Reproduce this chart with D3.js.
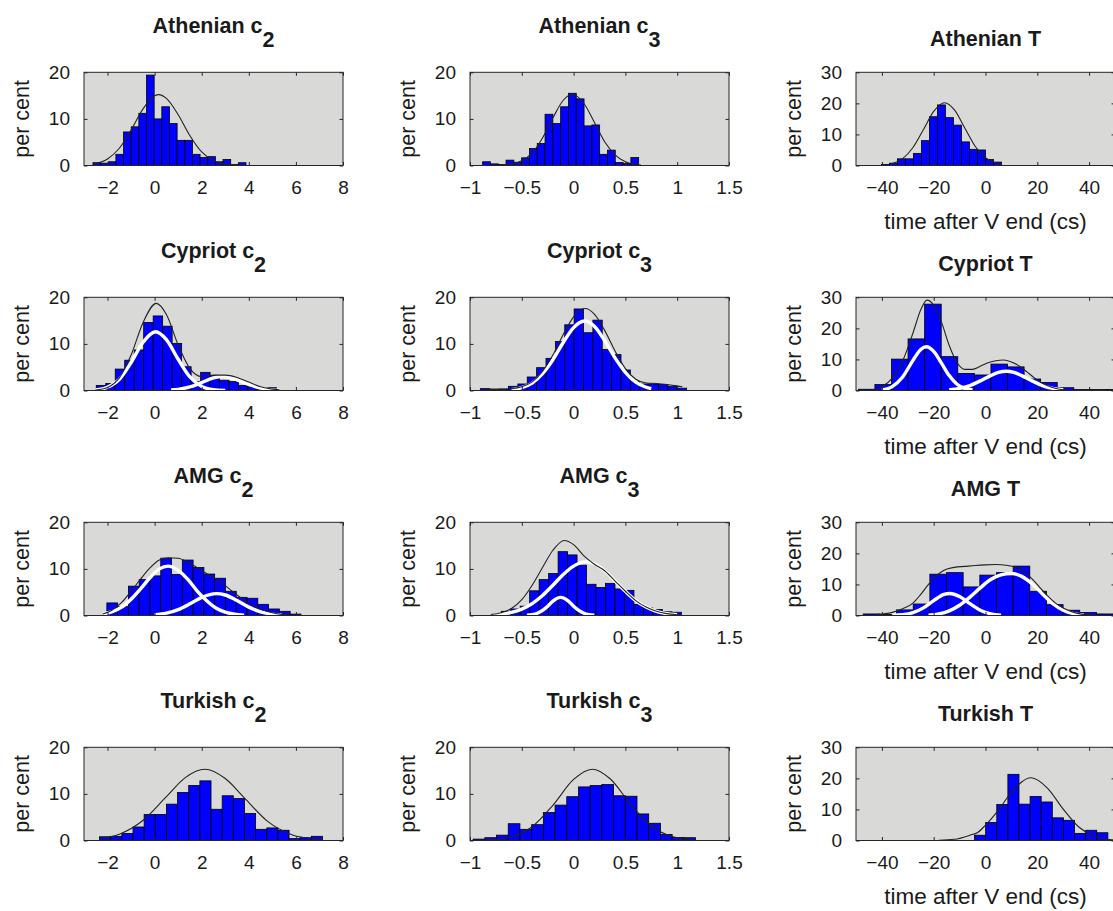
<!DOCTYPE html>
<html><head><meta charset="utf-8">
<script src="https://cdn.jsdelivr.net/npm/d3@7"></script>
<style>
body{margin:0;background:#fff}
svg text{font-family:"Liberation Sans",Arial,Helvetica,sans-serif;fill:#1a1a1a}
</style>
</head><body>
<svg id="c" width="1113" height="911"></svg>
<script>
// ---------------- data ----------------
const groups = ["Athenian", "Cypriot", "AMG", "Turkish"];
const measures = ["c2", "c3", "T"];
const xTicksC2 = [-2, 0, 2, 4, 6, 8];
const xTicksC3 = [-1, -0.5, 0, 0.5, 1, 1.5];
const xTicksT = [-40, -20, 0, 20, 40];
const yTicksC = [0, 10, 20];
const yTicksT = [0, 10, 20, 30];
const xDomC2 = [-3, 8], xDomC3 = [-1, 1.5], xDomT = [-50, 50];
const yDomC = [0, 20], yDomT = [0, 30];
const yLabel = "per cent";
const xLabelT = "time after V end (cs)";

// histogram bins: [first edge, bin width]; pct = bar heights (per cent)
const athC2Bin = [-2.62, 0.325];
const athC2Pct = [0.6,0.5,0.8,2.4,7.2,8.3,11.2,19.4,10.0,12.6,9.0,5.4,5.4,2.4,1.7,1.9,0.8,1.3,0.2,0.6];
const athC2Fit = [[-2.6,0.3],[-2,1.4],[-1.5,3.7],[-1,7.6],[-0.5,12.1],[0,14.95],[0.18,15.2],[0.5,14.4],[1,10.9],[1.5,6.4],[2,2.9],[2.5,1.0],[3,0.28],[3.5,0.06],[3.9,0.01]];

const athC3Bin = [-0.878, 0.0753];
const athC3Pct = [0.8,0.35,0.2,1.15,0.7,1.65,3.65,4.7,11.0,9.0,12.6,15.5,14.3,8.5,8.7,2.4,3.3,0.65,0.45,1.7];
const athC3Fit = [[-0.7,0.07],[-0.6,0.29],[-0.5,1.0],[-0.4,2.7],[-0.3,5.9],[-0.2,10.2],[-0.1,14.0],[-0.01,15.3],[0.1,13.3],[0.2,9.3],[0.3,5.1],[0.4,2.3],[0.5,0.8],[0.6,0.22],[0.65,0.11]];

const athTBin = [-40.2, 3.09];
const athTPct = [0.3,0.75,2.15,2.15,3.9,8.0,15.7,19.5,15.4,13.0,7.6,5.2,5.0,1.9,1.1];
const athTFit = [[-36,0.65],[-32,2.2],[-28,5.8],[-24,11.5],[-20,17.4],[-15.8,20.2],[-12,17.9],[-8,12.1],[-4,6.2],[0,2.5],[4,0.74],[6,0.37]];

const cypC2Bin = [-2.48, 0.403];
const cypC2Pct = [1.1,1.5,4.6,6.5,8.7,14.6,16.0,13.8,10.1,5.1,1.9,3.9,3.2,2.2,1.9,1.1,0.8,0.2,0.6];
const cypC2Fit = [[-2.5,0.11],[-2,0.66],[-1.5,2.7],[-1,7.6],[-0.5,14.5],[0.07,18.7],[0.5,16.3],[1,9.75],[1.5,4.7],[2,3.0],[2.5,3.3],[3,3.3],[3.5,2.8],[4,1.8],[4.5,0.8],[5,0.3],[5.3,0.15]];
const cypC2Comp1 = [[-2.5,0.14],[-2,0.71],[-1.5,2.4],[-1,6.0],[-0.5,10.3],[0.04,12.6],[0.5,10.9],[1,6.7],[1.5,2.9],[2,0.88],[2.5,0.19],[3,0.03]];
const cypC2Comp2 = [[0.7,0.1],[1,0.25],[1.5,0.77],[2,1.7],[2.5,2.7],[2.9,3.0],[3.5,2.3],[4,1.3],[4.5,0.5],[5,0.14],[5.3,0.05]];

const cypC3Bin = [-0.9, 0.0905];
const cypC3Pct = [0.4,0.2,0.3,0.9,1.4,2.9,4.9,6.9,10.5,14.1,17.5,12.4,15.1,8.8,7.7,4.4,1.9,1.4,1.4,1.3,0.9,0.5];
const cypC3Fit = [[-0.9,0.4],[-0.8,0.3],[-0.7,0.3],[-0.6,0.4],[-0.5,0.8],[-0.4,1.84],[-0.3,4.1],[-0.2,7.6],[-0.1,12.0],[0,15.8],[0.11,17.6],[0.2,16.4],[0.3,12.9],[0.4,8.5],[0.5,4.7],[0.6,2.4],[0.7,1.6],[0.8,1.5],[0.9,1.3],[1.0,1.0],[1.05,0.8]];
const cypC3Comp1 = [[-0.6,0.2],[-0.5,0.61],[-0.4,1.6],[-0.3,3.6],[-0.2,6.6],[-0.1,10.3],[0,13.5],[0.106,14.9],[0.2,13.8],[0.3,10.7],[0.4,7.0],[0.5,3.9],[0.6,1.8],[0.7,0.7],[0.75,0.4]];

const cypTBin = [-49.1, 6.4];
const cypTPct = [0.4,1.9,10.1,16.6,27.8,10.9,5.5,5.0,8.5,7.6,3.7,2.6,0.9,0.3,0.3,0.3];
const cypTFit = [[-44,0.2],[-40,1.2],[-36,4.0],[-32,9.5],[-28,18.5],[-25,26],[-22.6,29.1],[-20,27.5],[-17,22],[-14,14.5],[-11,9.0],[-8,6.8],[-5,6.8],[-2,7.8],[1,8.9],[4,9.6],[7,9.8],[10,9.2],[13,7.9],[16,6.0],[19,4.0],[22,2.3],[25,1.2],[28,0.5],[31,0.2]];
const cypTComp1 = [[-40,0.23],[-36,1.25],[-32,4.35],[-28,9.7],[-25,13.2],[-22.8,14.1],[-20,12.6],[-17,8.8],[-14,4.8],[-11,2.0],[-8,0.67],[-5,0.17]];
const cypTComp2 = [[-14,0.22],[-10,0.66],[-6,1.6],[-2,3.1],[2,4.8],[5,5.8],[8,6.2],[11,5.8],[14,4.8],[18,3.1],[22,1.6],[26,0.66],[30,0.22]];

const amgC2Bin = [-2.03, 0.458];
const amgC2Pct = [2.7,1.9,6.3,7.7,8.5,12.3,8.8,11.9,10.3,8.9,8.0,5.2,3.9,3.7,2.4,1.4,0.9,0.3];
const amgC2Fit = [[-2.2,0.3],[-1.8,1.2],[-1.4,2.8],[-1,5.2],[-0.6,7.8],[-0.2,10.2],[0.2,11.9],[0.6,12.4],[1,12.3],[1.4,11.5],[1.8,10.3],[2.2,9.0],[2.6,7.8],[3,6.4],[3.4,4.8],[3.8,3.3],[4.2,2.1],[4.6,1.2],[5,0.6],[5.4,0.25],[5.8,0.1]];
const amgC2Comp1 = [[-2.2,0.33],[-1.8,0.83],[-1.4,1.8],[-1,3.5],[-0.6,5.7],[-0.2,8.1],[0.2,10.0],[0.57,10.6],[1,9.7],[1.4,7.8],[1.8,5.3],[2.2,3.2],[2.6,1.6],[3,0.73],[3.4,0.28],[3.8,0.09]];
const amgC2Comp2 = [[0,0.15],[0.5,0.5],[1,1.27],[1.5,2.5],[2,3.9],[2.62,4.7],[3,4.4],[3.5,3.2],[4,1.8],[4.5,0.8],[5,0.28],[5.4,0.1]];

const amgC3Bin = [-0.79, 0.0915];
const amgC3Pct = [0.4,0.9,1.4,2.0,5.3,7.7,9.0,13.7,13.0,10.8,6.7,6.0,6.9,5.7,5.4,2.4,1.6,1.3,0.8,0.7];
const amgC3Fit = [[-0.8,0.2],[-0.7,0.6],[-0.6,1.5],[-0.5,3.4],[-0.4,6.5],[-0.3,10.3],[-0.2,14.0],[-0.09,16.1],[0,15.2],[0.1,12.8],[0.2,11.0],[0.3,9.6],[0.4,7.4],[0.5,5.2],[0.6,3.2],[0.7,1.8],[0.8,0.9],[0.9,0.4],[1.0,0.16]];
const amgC3Comp1 = [[-0.8,0.1],[-0.7,0.27],[-0.6,0.65],[-0.5,1.36],[-0.4,2.56],[-0.3,4.3],[-0.2,6.5],[-0.1,8.8],[0,10.6],[0.12,11.5],[0.2,11.1],[0.3,9.6],[0.4,7.4],[0.5,5.2],[0.6,3.2],[0.7,1.8],[0.8,0.88],[0.9,0.39],[1.0,0.16]];
const amgC3Comp2 = [[-0.45,0.05],[-0.4,0.17],[-0.35,0.48],[-0.3,1.1],[-0.25,2.0],[-0.2,3.1],[-0.125,3.9],[-0.05,3.1],[0,2.0],[0.05,1.1],[0.1,0.48],[0.15,0.17],[0.2,0.05]];

const amgTBin = [-47.2, 6.43];
const amgTPct = [0.5,0.3,1.8,3.7,13.3,13.8,9.2,13.0,13.8,15.9,7.8,3.5,1.7,1.0,0.5];
const amgTFit = [[-42,0.3],[-36,1.0],[-32,2.2],[-28,4.0],[-25,6.8],[-22,10.0],[-19,12.8],[-16,14.6],[-12,15.5],[-8,15.8],[-4,16.1],[0,16.3],[4,16.4],[8,16.2],[12,15.4],[15,14.0],[18,11.8],[21,9.0],[24,6.3],[27,4.0],[30,2.4],[33,1.3],[36,0.6],[40,0.2]];
const amgTComp1 = [[-36,0.05],[-32,0.24],[-28,0.9],[-24,2.46],[-20,4.8],[-16,6.8],[-13.8,7.1],[-10,6.1],[-6,3.8],[-2,1.7],[2,0.55],[6,0.13]];
const amgTComp2 = [[-22,0.1],[-18,0.5],[-14,1.5],[-10,3.3],[-6,5.9],[-2,8.9],[2,11.6],[6,13.1],[9.9,13.5],[14,12.6],[18,10.2],[22,6.9],[26,3.8],[30,1.7],[34,0.6],[38,0.15]];

const turC2Bin = [-2.34, 0.4735];
const turC2Pct = [0.8,0.9,1.5,2.9,5.6,5.6,7.8,10.3,11.8,12.8,6.7,9.6,9.0,5.8,2.4,2.7,2.2,0.4,0.6,0.9];
const turC2Fit = [[-2.3,0.42],[-1.5,1.36],[-0.5,4.3],[0.5,9.4],[1.3,13.5],[2.13,15.3],[3,13.3],[3.8,9.2],[4.8,4.1],[5.8,1.29],[6.8,0.28],[7.1,0.15]];

const turC3Bin = [-0.97, 0.113];
const turC3Pct = [0.3,0.6,1.15,3.6,2.4,3.4,6.0,7.6,9.4,11.5,11.8,12.0,9.6,9.5,5.7,3.7,1.3,0.65,0.6];
const turC3Fit = [[-0.95,0.03],[-0.8,0.14],[-0.6,0.785],[-0.4,2.96],[-0.2,7.56],[0,13.1],[0.18,15.3],[0.35,13.3],[0.55,7.8],[0.75,3.1],[0.95,0.85],[1.15,0.16]];

const turTBin = [-4.23, 4.29];
const turTPct = [1.7,5.8,11.6,21.3,11.7,14.2,12.4,7.3,6.5,2.3,3.3,2.5];
const turTFit = [[-18,0.06],[-12,0.38],[-6,1.7],[-3,2.6],[0,4.96],[5,9.8],[10,15.5],[17.6,20.2],[24,16.8],[30,10.1],[36,4.35],[42,1.36],[48,0.3],[50,0.17]];

// ---------------- layout ----------------
const colLeft = [84, 470, 856], plotW = 259;
const rowTop = [72.3, 297.3, 522.3, 747.3], plotH = 93.2;
const xDoms = [xDomC2, xDomC3, xDomT];
const xTickSets = [xTicksC2, xTicksC3, xTicksT];
const yDoms = [yDomC, yDomC, yDomT];
const yTickSets = [yTicksC, yTicksC, yTicksT];

const panels = [
  [athC2Bin, athC2Pct, athC2Fit, []],
  [athC3Bin, athC3Pct, athC3Fit, []],
  [athTBin, athTPct, athTFit, []],
  [cypC2Bin, cypC2Pct, cypC2Fit, [cypC2Comp1, cypC2Comp2]],
  [cypC3Bin, cypC3Pct, cypC3Fit, [cypC3Comp1]],
  [cypTBin, cypTPct, cypTFit, [cypTComp1, cypTComp2]],
  [amgC2Bin, amgC2Pct, amgC2Fit, [amgC2Comp1, amgC2Comp2]],
  [amgC3Bin, amgC3Pct, amgC3Fit, [amgC3Comp1, amgC3Comp2]],
  [amgTBin, amgTPct, amgTFit, [amgTComp1, amgTComp2]],
  [turC2Bin, turC2Pct, turC2Fit, []],
  [turC3Bin, turC3Pct, turC3Fit, []],
  [turTBin, turTPct, turTFit, []]
];

const svg = d3.select("#c");
const axisCol = "#262626";
const fs = 19;
const font = '"Liberation Sans", Arial, sans-serif';

panels.forEach((p, idx) => {
  const row = Math.floor(idx / 3), col = idx % 3;
  const [bin, pct, fit, comps] = p;
  const x0 = colLeft[col], y0 = rowTop[row];
  const xs = d3.scaleLinear().domain(xDoms[col]).range([x0, x0 + plotW]);
  const ys = d3.scaleLinear().domain(yDoms[col]).range([y0 + plotH, y0]);
  const g = svg.append("g");
  const cid = "clip" + idx;
  g.append("clipPath").attr("id", cid).append("rect")
    .attr("x", x0).attr("y", y0).attr("width", plotW).attr("height", plotH);

  g.append("rect").attr("x", x0).attr("y", y0).attr("width", plotW).attr("height", plotH)
    .attr("fill", "#d9d9d7");

  const inner = g.append("g").attr("clip-path", `url(#${cid})`);
  const bars = pct.map((v, i) => ({a: bin[0] + i * bin[1], b: bin[0] + (i + 1) * bin[1], v}));
  inner.selectAll("rect.bar").data(bars).enter().append("rect")
    .attr("x", d => xs(d.a)).attr("width", d => xs(d.b) - xs(d.a))
    .attr("y", d => ys(d.v)).attr("height", d => ys(0) - ys(d.v))
    .attr("fill", "#0000ff").attr("stroke", "#000").attr("stroke-width", 0.8);

  const line = d3.line().x(d => xs(d[0])).y(d => ys(d[1])).curve(d3.curveMonotoneX);
  comps.forEach(c => {
    inner.append("path").attr("d", line(c)).attr("fill", "none")
      .attr("stroke", "#fff").attr("stroke-width", 3.4).attr("stroke-linejoin", "round");
  });
  inner.append("path").attr("d", line(fit)).attr("fill", "none")
    .attr("stroke", "#222").attr("stroke-width", 1.1);

  // axes
  const fmt = d3.format("");
  const xb = g.append("g").attr("transform", `translate(0,${y0 + plotH})`)
    .call(d3.axisBottom(xs).tickValues(xTickSets[col]).tickSizeInner(-3.5).tickSizeOuter(0).tickPadding(15).tickFormat(fmt));
  const xt = g.append("g").attr("transform", `translate(0,${y0})`)
    .call(d3.axisTop(xs).tickValues(xTickSets[col]).tickSizeInner(-3.5).tickSizeOuter(0).tickFormat(""));
  const yl = g.append("g").attr("transform", `translate(${x0},0)`)
    .call(d3.axisLeft(ys).tickValues(yTickSets[col]).tickSizeInner(-3.5).tickSizeOuter(0).tickPadding(14).tickFormat(fmt));
  const yr = g.append("g").attr("transform", `translate(${x0 + plotW},0)`)
    .call(d3.axisRight(ys).tickValues(yTickSets[col]).tickSizeInner(-3.5).tickSizeOuter(0).tickFormat(""));
  [xb, xt, yl, yr].forEach(a => {
    a.select(".domain").remove();
    a.selectAll("line").attr("stroke", axisCol);
    a.selectAll("text").attr("font-size", fs).attr("fill", "#1a1a1a").style("font-family", font);
  });

  g.append("rect").attr("x", x0).attr("y", y0).attr("width", plotW).attr("height", plotH)
    .attr("fill", "none").attr("stroke", axisCol).attr("stroke-width", 1);

  // y label
  g.append("text").attr("transform", `translate(${x0 - 55},${y0 + plotH / 2}) rotate(-90)`)
    .attr("text-anchor", "middle").attr("font-size", 21.5).text(yLabel);

  // title
  const cx = x0 + plotW / 2;
  const m = measures[col];
  if (m === "T") {
    g.append("text").attr("x", cx).attr("y", y0 - 26.5).attr("text-anchor", "middle")
      .attr("font-size", 21.5).attr("font-weight", "bold").text(groups[row] + " T");
  } else {
    const t = g.append("text").attr("x", cx).attr("y", y0 - 39).attr("text-anchor", "middle")
      .attr("font-size", 21.5).attr("font-weight", "bold");
    t.append("tspan").text(groups[row] + " c");
    t.append("tspan").attr("dy", 14).text(m.slice(1));
  }
  if (m === "T") {
    g.append("text").attr("x", cx).attr("y", y0 + plotH + 63).attr("text-anchor", "middle")
      .attr("font-size", 22.5).text(xLabelT);
  }
});
</script>
</body></html>
